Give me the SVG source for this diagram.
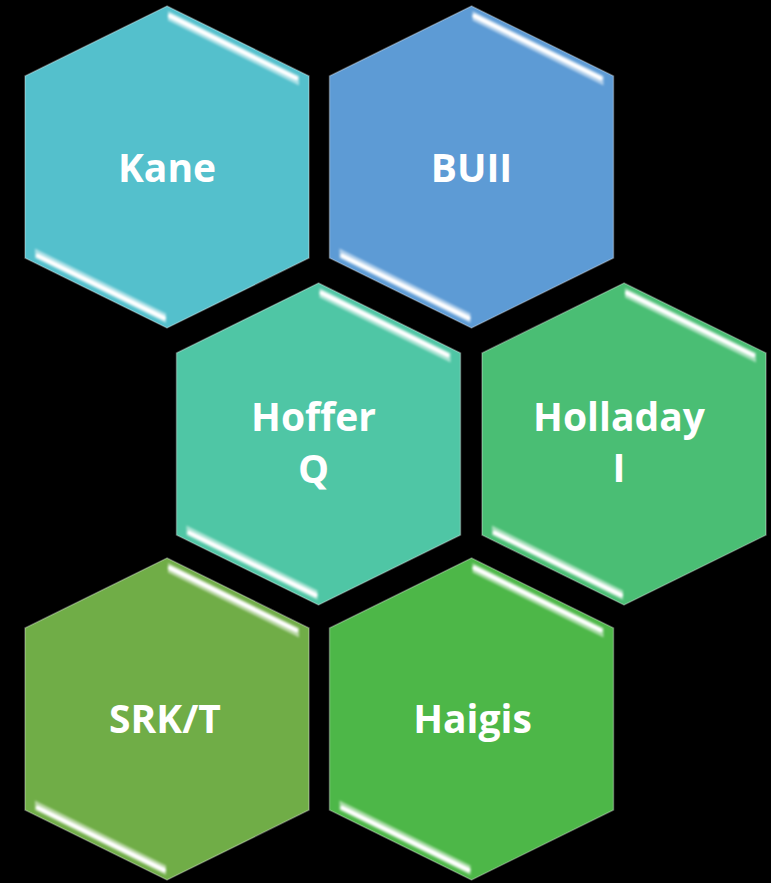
<svg xmlns="http://www.w3.org/2000/svg" xmlns:xlink="http://www.w3.org/1999/xlink" width="771" height="883" viewBox="0 0 771 883">
  <style>
    .lbl { font-family: "Open Sans", "Liberation Sans", sans-serif; font-weight: bold; font-size: 39px; fill: #FFFFFF; text-anchor: middle; }
    .rim { fill: none; stroke: #FFFFFF; stroke-opacity: 0.3; stroke-width: 1.5; stroke-linejoin: miter; }
    .strip { fill: #FFFFFF; fill-opacity: 0.5; }
    .core { stroke: #FFFFFF; stroke-width: 4.2; stroke-linecap: round; fill: none; }
  </style>
  <defs>
    <!-- pointy-top hexagon centred on the origin -->
    <polygon id="hex" points="0,-161 142,-91 142,91 0,161 -142,91 -142,-91"/>
    <filter id="soft" x="-10%" y="-10%" width="120%" height="120%">
      <feGaussianBlur stdDeviation="1"/>
    </filter>
    <!-- glossy bevel highlights on the upper-right and lower-left edges -->
    <g id="gloss" filter="url(#soft)">
      <polygon class="strip" points="1,-156 132,-90.9 132,-81.6 1,-146.6"/>
      <line class="core" x1="3" y1="-151" x2="129" y2="-88.8"/>
      <polygon class="strip" points="-1,156 -132,90.9 -132,81.6 -1,146.6"/>
      <line class="core" x1="-3" y1="151" x2="-129" y2="88.8"/>
    </g>
  </defs>

  <rect width="771" height="883" fill="#000000"/>

  <g id="connectors"/>

  <g id="kane" transform="translate(167,167)">
    <use href="#hex" fill="#54C0CC"/>
    <use href="#hex" class="rim"/>
    <use href="#gloss"/>
    <text class="lbl" x="0" y="15">Kane</text>
  </g>

  <g id="buii" transform="translate(471.5,167)">
    <use href="#hex" fill="#5D9BD5"/>
    <use href="#hex" class="rim"/>
    <use href="#gloss"/>
    <text class="lbl" x="0" y="15">BUII</text>
  </g>

  <g id="hoffer-q" transform="translate(318.5,444)">
    <use href="#hex" fill="#4FC6A5"/>
    <use href="#hex" class="rim"/>
    <use href="#gloss"/>
    <text class="lbl" x="-5" y="-13">Hoffer</text>
    <text class="lbl" x="-5" y="39">Q</text>
  </g>

  <g id="holladay-i" transform="translate(624,444)">
    <use href="#hex" fill="#4ABE74"/>
    <use href="#hex" class="rim"/>
    <use href="#gloss"/>
    <text class="lbl" x="-5" y="-13">Holladay</text>
    <text class="lbl" x="-5" y="38">I</text>
  </g>

  <g id="srk-t" transform="translate(167,719)">
    <use href="#hex" fill="#70AD47"/>
    <use href="#hex" class="rim"/>
    <use href="#gloss"/>
    <text class="lbl" x="-2" y="14">SRK/T</text>
  </g>

  <g id="haigis" transform="translate(471.5,719)">
    <use href="#hex" fill="#4DB748"/>
    <use href="#hex" class="rim"/>
    <use href="#gloss"/>
    <text class="lbl" x="1" y="14">Haigis</text>
  </g>
</svg>
